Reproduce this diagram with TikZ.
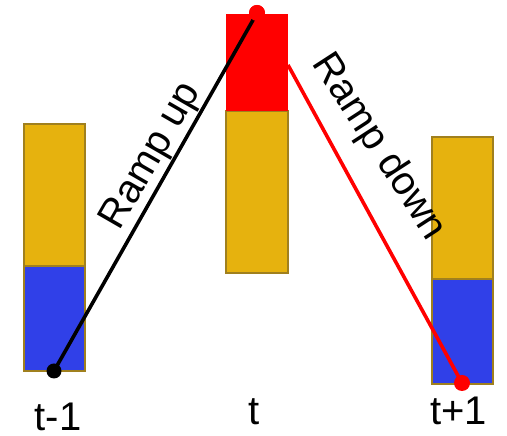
\documentclass[tikz,border=0pt]{standalone}
\usepackage{fontspec}
\setmainfont{Liberation Sans}
\definecolor{barorange}{RGB}{230,178,14}
\definecolor{barblue}{RGB}{48,64,232}
\definecolor{baredge}{RGB}{160,128,30}
\definecolor{ramred}{RGB}{255,0,0}
\begin{document}
\begin{tikzpicture}[x=1pt,y=1pt,
  seg/.style={draw=baredge,line width=1.3pt},
  dot/.style={circle,inner sep=0pt,minimum size=#1},
  lbl/.style={font=\fontsize{40}{48}\selectfont,anchor=base,inner sep=0pt},
  ramp/.style={line width=3.6pt}]
\useasboundingbox (0,0) rectangle (507,436);
% left bar (t-1)
\path[seg,fill=barorange] (24,170) rectangle (85,312);
\path[seg,fill=barblue] (24,65) rectangle (85,170);
% middle bar (t)
\path[seg,fill=barorange] (226,163) rectangle (288,325);
\path[fill=ramred] (226,325) rectangle (288,422);
% right bar (t+1)
\path[seg,fill=barorange] (432,157) rectangle (493,299);
\path[seg,fill=barblue] (432,52) rectangle (493,157);
% points
\node[dot=15pt,fill=black] (p0) at (54,65) {};
\node[dot=16pt,fill=ramred] (p1) at (257,423) {};
\node[dot=16pt,fill=ramred] (p2) at (462,53) {};
\coordinate (r0) at (288,371);
% ramps
\draw[ramp,black] (p0.center) -- (p1.center);
\node[dot=16pt,fill=ramred] at (257,423) {};
\draw[ramp,ramred] (r0) -- (p2.center);
% labels
\node[lbl,rotate=60] (up) at (160.5,274.5) {Ramp up};
\node[lbl,rotate=-57] (down) at (370,283) {Ramp down};
\node[lbl] (l1) at (58,5) {t-1};
\node[lbl] (l2) at (254,11) {t};
\node[lbl] (l3) at (458.5,11) {t+1};
\end{tikzpicture}
\end{document}
